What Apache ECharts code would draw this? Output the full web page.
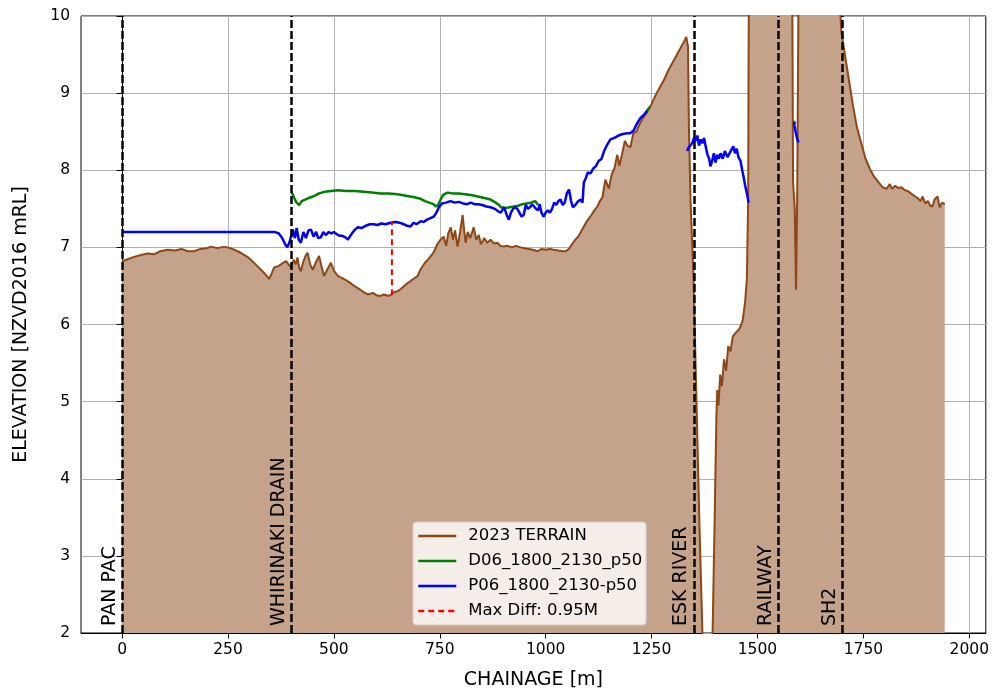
<!DOCTYPE html>
<html>
<head>
<meta charset="utf-8">
<script src="https://cdn.jsdelivr.net/npm/echarts@6/dist/echarts.min.js"></script>
<style>
html,body{margin:0;padding:0;background:#fff;}
#chart{width:992px;height:695px;}
</style>
</head>
<body>
<div id="chart"></div>
<script>
// ---- data (chainage m, elevation mRL) ----
const xTicks = [0, 250, 500, 750, 1000, 1250, 1500, 1750, 2000];
const yTicks = [2, 3, 4, 5, 6, 7, 8, 9, 10];

const terrain = [
  [0,6.82],[10,6.84],[20,6.86],[30,6.88],[45,6.9],[60,6.92],[75,6.91],[90,6.95],[108,6.97],[125,6.96],
  [140,6.98],[155,6.95],[170,6.95],[185,6.98],[200,6.99],[210,7.01],[225,6.99],[241,7.01],[255,6.99],[265,6.97],
  [280,6.93],[295,6.88],[304,6.84],[315,6.78],[328,6.71],[340,6.64],[347,6.59],[353,6.66],[359,6.74],[370,6.76],
  [380,6.8],[387,6.82],[393,6.78],[399,6.74],[405,6.84],[410,6.78],[414,6.87],[418,6.74],[422,6.69],[428,6.82],
  [434,6.9],[438,6.93],[444,6.78],[450,6.71],[457,6.8],[465,6.89],[471,6.75],[477,6.63],[485,6.72],[493,6.8],
  [500,6.7],[509,6.63],[516,6.61],[524,6.59],[536,6.55],[548,6.5],[560,6.46],[570,6.42],[580,6.39],[592,6.41],
  [600,6.38],[610,6.37],[618,6.39],[630,6.37],[642,6.42],[650,6.43],[658,6.46],[670,6.52],[680,6.56],[690,6.6],
  [698,6.63],[705,6.72],[715,6.8],[725,6.86],[736,6.94],[745,7.05],[752,7.1],[759,7.14],[765,7.02],[770,7.18],
  [776,7.26],[781,7.1],[786,7.22],[792,7.01],[798,7.2],[804,7.42],[808,7.2],[811,7.06],[816,7.2],[822,7.12],
  [830,7.26],[836,7.1],[842,7.16],[847,7.04],[855,7.12],[862,7.06],[870,7.1],[878,7.05],[886,7.06],[893,7.02],
  [901,7.01],[910,7.02],[920,7.0],[930,7.02],[941,7.0],[950,6.99],[960,6.98],[970,6.97],[981,6.95],[990,6.98],
  [1000,6.97],[1010,6.98],[1019,6.97],[1030,6.96],[1040,6.95],[1047,6.95],[1055,6.98],[1062,7.04],[1070,7.1],
  [1078,7.15],[1085,7.22],[1093,7.3],[1100,7.36],[1108,7.42],[1115,7.48],[1122,7.53],[1128,7.6],[1134,7.65],
  [1141,7.88],[1149,7.76],[1156,7.95],[1162,8.02],[1169,8.2],[1174,8.06],[1180,8.2],[1187,8.38],[1193,8.32],
  [1200,8.3],[1207,8.48],[1214,8.5],[1220,8.58],[1230,8.68],[1240,8.76],[1250,8.86],[1260,8.98],[1270,9.08],
  [1280,9.18],[1290,9.3],[1300,9.4],[1310,9.5],[1320,9.6],[1326,9.66],[1332,9.73],[1336,9.6],[1338,8.6],
  [1342,7.6],[1349,6.6],[1356,5.0],[1363,3.4],[1370,2.0],[1375,1.2],[1382,0.8],[1389,1.2],[1394,2.0],[1399,3.5],
  [1403,4.8],[1405,5.15],[1408,4.95],[1412,5.35],[1416,5.2],[1421,5.55],[1426,5.4],[1431,5.72],[1436,5.65],
  [1442,5.85],[1450,5.9],[1458,5.95],[1465,6.05],[1471,6.3],[1475,6.6],[1478,7.6],[1479,9.5],[1481,11.5],
  [1580,11.5],[1582,10.5],[1584,7.85],[1588,7.5],[1591,6.45],[1594,7.8],[1597,10.5],[1600,11.5],[1690,11.5],
  [1694,10.2],[1698,9.8],[1705,9.55],[1715,9.2],[1725,8.85],[1735,8.55],[1745,8.35],[1755,8.15],[1765,8.02],
  [1775,7.92],[1785,7.85],[1795,7.78],[1805,7.76],[1812,7.82],[1818,7.76],[1825,7.8],[1832,7.77],[1840,7.78],
  [1848,7.74],[1855,7.73],[1862,7.7],[1870,7.67],[1878,7.64],[1885,7.6],[1890,7.66],[1896,7.57],[1902,7.6],
  [1908,7.54],[1913,7.53],[1918,7.62],[1925,7.66],[1930,7.52],[1936,7.58],[1942,7.56]
];

const d06 = [
  [400,7.72],[404,7.7],[408,7.62],[412,7.58],[418,7.55],[424,7.6],[432,7.62],[440,7.64],[446,7.65],[455,7.67],
  [465,7.7],[478,7.72],[493,7.73],[510,7.74],[530,7.73],[550,7.73],[570,7.72],[590,7.71],[610,7.7],[630,7.7],
  [650,7.69],[670,7.67],[690,7.65],[705,7.63],[715,7.6],[725,7.58],[735,7.56],[741,7.53],[746,7.55],[752,7.62],
  [758,7.68],[768,7.71],[780,7.7],[795,7.7],[810,7.69],[823,7.68],[840,7.66],[855,7.64],[870,7.62],[882,7.58],
  [890,7.55],[894,7.52],[905,7.51],[915,7.52],[925,7.53],[935,7.54],[945,7.56],[955,7.57],[965,7.58],[975,7.6],
  [982,7.55],[1100,null],[1234,8.72],[1240,8.78],[1246,8.82],[1400,null],[1586,8.64],[1589,8.6]
];

const p06 = [
  [0,7.2],[100,7.2],[200,7.2],[300,7.2],[360,7.2],[370,7.18],[378,7.12],[385,7.04],[390,7.0],[396,7.08],
  [403,7.23],[408,7.12],[412,7.25],[417,7.1],[422,7.06],[428,7.2],[434,7.12],[440,7.22],[446,7.23],[452,7.14],
  [458,7.2],[463,7.12],[469,7.13],[475,7.2],[481,7.16],[488,7.2],[494,7.18],[500,7.2],[507,7.17],[514,7.15],
  [520,7.15],[527,7.13],[533,7.1],[540,7.16],[548,7.22],[556,7.26],[565,7.25],[575,7.28],[585,7.3],[594,7.3],
  [603,7.29],[612,7.31],[622,7.3],[634,7.32],[645,7.33],[655,7.32],[665,7.3],[673,7.28],[681,7.27],[688,7.32],
  [695,7.3],[705,7.34],[712,7.33],[720,7.36],[728,7.38],[736,7.4],[742,7.45],[748,7.52],[755,7.57],[765,7.58],
  [775,7.6],[785,7.58],[795,7.59],[805,7.57],[815,7.56],[823,7.58],[832,7.56],[840,7.56],[850,7.55],[860,7.53],
  [870,7.52],[880,7.5],[887,7.47],[894,7.45],[902,7.52],[908,7.42],[913,7.36],[918,7.45],[923,7.5],[928,7.52],
  [933,7.5],[938,7.45],[943,7.4],[948,7.42],[953,7.55],[958,7.5],[963,7.52],[968,7.56],[972,7.58],[977,7.5],
  [982,7.48],[986,7.56],[990,7.45],[995,7.4],[1000,7.45],[1005,7.48],[1010,7.45],[1015,7.5],[1020,7.58],
  [1025,7.55],[1030,7.6],[1035,7.62],[1040,7.55],[1045,7.58],[1050,7.7],[1055,7.75],[1060,7.6],[1064,7.52],
  [1070,7.55],[1077,7.6],[1083,7.62],[1087,7.58],[1090,7.84],[1095,7.9],[1099,7.97],[1106,7.96],[1112,8.02],
  [1118,8.05],[1125,8.12],[1132,8.15],[1138,8.25],[1145,8.33],[1153,8.4],[1162,8.42],[1172,8.45],[1182,8.47],
  [1192,8.48],[1200,8.48],[1208,8.52],[1215,8.6],[1224,8.68],[1232,8.72],[1240,8.77],[1290,null],
  [1334,8.25],[1338,8.3],[1342,8.29],[1346,8.35],[1350,8.42],[1354,8.38],[1358,8.45],[1362,8.32],[1366,8.4],
  [1370,8.35],[1374,8.42],[1378,8.3],[1382,8.2],[1386,8.15],[1389,8.05],[1393,8.12],[1397,8.22],[1401,8.1],
  [1405,8.2],[1409,8.15],[1413,8.22],[1418,8.15],[1423,8.25],[1429,8.17],[1434,8.22],[1439,8.27],[1443,8.31],
  [1447,8.22],[1451,8.28],[1455,8.17],[1460,8.12],[1464,8.0],[1467,7.92],[1471,7.8],[1475,7.7],[1479,7.58],
  [1530,null],[1586,8.62],[1590,8.5],[1594,8.4],[1597,8.36]
];

const maxDiff = [[637,6.38],[637,7.33]];

const featureX = [0, 400, 1350, 1550, 1700];
const featureNames = ['PAN PAC', 'WHIRINAKI DRAIN', 'ESK RIVER', 'RAILWAY', 'SH2'];

const seriesNames = ['2023 TERRAIN', 'D06_1800_2130_p50', 'P06_1800_2130-p50', 'Max Diff: 0.95M'];

// ---- chart ----
const FONT = 'DejaVu Sans';
const chart = echarts.init(document.getElementById('chart'), null, {renderer: 'canvas'});
const gridLine = {show: true, lineStyle: {color: '#b0b0b0', width: 1}};

const option = {
  animation: false,
  backgroundColor: '#fff',
  textStyle: {fontFamily: FONT},
  grid: {left: 81, right: 6, top: 16, bottom: 60, show: true, borderColor: '#000', borderWidth: 1, containLabel: false},
  legend: {
    data: seriesNames,
    orient: 'vertical',
    left: 413, top: 522,
    itemWidth: 38, itemHeight: 14, itemGap: 5,
    padding: [4, 4, 4, 4],
    backgroundColor: 'rgba(255,255,255,0.8)',
    borderColor: '#cccccc', borderWidth: 1, borderRadius: 3,
    itemStyle: {opacity: 0},
    lineStyle: {width: 2.5},
    textStyle: {fontSize: 16.5, color: '#000', fontFamily: FONT, lineHeight: 20, padding: [0, 0, 0, 7]}
  },
  xAxis: {
    type: 'value', min: -97, max: 2039,
    name: 'CHAINAGE [m]', nameLocation: 'middle', nameGap: 38,
    nameTextStyle: {fontSize: 19, color: '#000', fontFamily: FONT},
    axisLine: {show: true, lineStyle: {color: '#000', width: 1}},
    axisTick: {show: true, customValues: xTicks, length: 5.5, lineStyle: {color: '#000'}},
    axisLabel: {customValues: xTicks, fontSize: 15.5, color: '#000', margin: 9, fontFamily: FONT,
                formatter: v => String(v)},
    splitLine: gridLine
  },
  yAxis: {
    type: 'value', min: yTicks[0], max: yTicks[yTicks.length - 1], interval: 1,
    name: 'ELEVATION [NZVD2016 mRL]', nameLocation: 'middle', nameGap: 50,
    nameTextStyle: {fontSize: 19, color: '#000', fontFamily: FONT},
    axisLine: {show: true, lineStyle: {color: '#000', width: 1}},
    axisTick: {show: true, length: 5.5, lineStyle: {color: '#000'}},
    axisLabel: {fontSize: 15.5, color: '#000', margin: 11, fontFamily: FONT, formatter: v => String(v)},
    splitLine: gridLine
  },
  series: [
    {
      name: seriesNames[0], type: 'line', data: terrain, symbol: 'none', showSymbol: false,
      lineStyle: {color: '#8E4716', width: 2}, itemStyle: {color: '#8E4716'},
      areaStyle: {color: '#C5A38A', opacity: 1, origin: 'start'},
      z: 2,
      markLine: {
        silent: true, symbol: ['none', 'none'], animation: false, z: 6,
        lineStyle: {color: '#000', width: 2.5, type: [8, 3]},
        label: {show: true, position: 'insideStartTop', formatter: '{b}', distance: [7, 3],
                fontSize: 19, color: '#000', fontFamily: FONT},
        data: featureX.map((v, i) => ({xAxis: v, name: featureNames[i]}))
      }
    },
    {
      name: seriesNames[1], type: 'line', data: d06, symbol: 'none', showSymbol: false, connectNulls: false,
      lineStyle: {color: '#008000', width: 2.5}, itemStyle: {color: '#008000'}, z: 3
    },
    {
      name: seriesNames[2], type: 'line', data: p06, symbol: 'none', showSymbol: false, connectNulls: false,
      lineStyle: {color: '#0000ff', width: 2.5}, itemStyle: {color: '#0000ff'}, z: 4
    },
    {
      name: seriesNames[3], type: 'line', data: maxDiff, symbol: 'none', showSymbol: false,
      lineStyle: {color: '#ff0000', width: 2, type: [6, 4]}, itemStyle: {color: '#ff0000'}, z: 5
    }
  ]
};
chart.setOption(option);
</script>
</body>
</html>
